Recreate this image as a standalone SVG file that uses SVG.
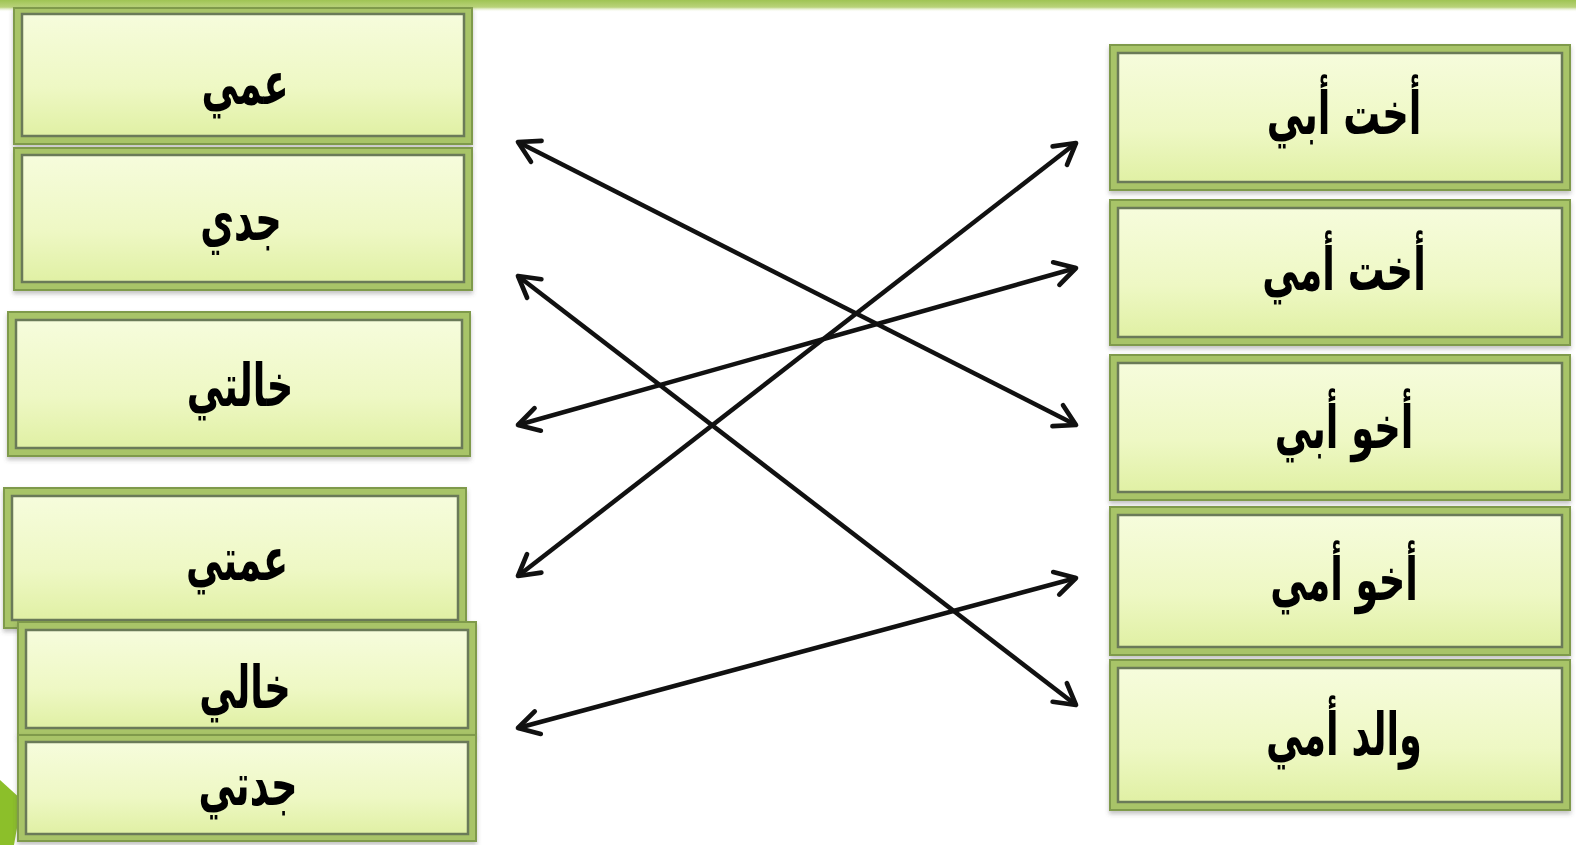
<svg xmlns="http://www.w3.org/2000/svg" width="1576" height="845" viewBox="0 0 1576 845">
<defs>
<linearGradient id="fillG" x1="0" y1="0" x2="0" y2="1">
<stop offset="0" stop-color="#f6fcdc"/>
<stop offset="0.6" stop-color="#eef8c4"/>
<stop offset="1" stop-color="#e0f0a4"/>
</linearGradient>
<linearGradient id="bandG" x1="0" y1="0" x2="0" y2="1">
<stop offset="0" stop-color="#9fc454"/>
<stop offset="0.6" stop-color="#b9d37a"/>
<stop offset="1" stop-color="#ffffff" stop-opacity="0"/>
</linearGradient>
<marker id="ah" viewBox="0 0 20 20" refX="17" refY="10" markerWidth="6.5" markerHeight="6.5" markerUnits="strokeWidth" orient="auto-start-reverse">
<path d="M3,2 L17,10 L3,18" fill="none" stroke="#111" stroke-width="3.2" stroke-linecap="round" stroke-linejoin="round"/>
</marker>
<filter id="sh" x="-5%" y="-5%" width="110%" height="120%">
<feDropShadow dx="0" dy="3" stdDeviation="2" flood-color="#555" flood-opacity="0.35"/>
</filter>
</defs>
<style>
.outer{fill:#a8c468;stroke:#7f9a4c;stroke-width:2}
.inner{fill:url(#fillG);stroke:#6b7a58;stroke-width:2.5}
.lbl{font-family:"DejaVu Sans",sans-serif;font-weight:bold;font-size:46px;fill:#000;text-anchor:middle;dominant-baseline:central}
.conn{stroke:#111;stroke-width:4.5;fill:none;marker-start:url(#ah);marker-end:url(#ah)}
</style>
<rect x="0" y="0" width="1576" height="845" fill="#ffffff"/>
<rect x="0" y="0" width="1576" height="12" fill="url(#bandG)"/>
<path d="M0,780 L22,800 L14,845 L0,845 Z" fill="#8cbf2a"/>

<g id="left-amm" filter="url(#sh)">
<rect class="outer" x="14" y="8" width="458" height="136"/>
<rect class="inner" x="22" y="14" width="442" height="122"/>
<text class="lbl" transform="translate(245,84) scale(0.8,1.3)" direction="rtl">عمي</text>
</g>
<g id="left-jaddi" filter="url(#sh)">
<rect class="outer" x="14" y="148" width="458" height="142"/>
<rect class="inner" x="22" y="155" width="442" height="127"/>
<text class="lbl" transform="translate(241,220) scale(0.8,1.3)" direction="rtl">جدي</text>
</g>
<g id="left-khalati" filter="url(#sh)">
<rect class="outer" x="8" y="312" width="462" height="144"/>
<rect class="inner" x="16" y="320" width="446" height="128"/>
<text class="lbl" transform="translate(240,386) scale(0.8,1.3)" direction="rtl">خالتي</text>
</g>
<g id="left-ammati" filter="url(#sh)">
<rect class="outer" x="4" y="488" width="462" height="140"/>
<rect class="inner" x="12" y="496" width="446" height="124"/>
<text class="lbl" transform="translate(237,560) scale(0.8,1.3)" direction="rtl">عمتي</text>
</g>
<g id="left-khali" filter="url(#sh)">
<rect class="outer" x="18" y="622" width="458" height="113"/>
<rect class="inner" x="26" y="630" width="442" height="98"/>
<text class="lbl" transform="translate(245,688) scale(0.8,1.3)" direction="rtl">خالي</text>
</g>
<g id="left-jaddati" filter="url(#sh)">
<rect class="outer" x="18" y="735" width="458" height="106"/>
<rect class="inner" x="26" y="742" width="442" height="92"/>
<text class="lbl" transform="translate(248,785) scale(0.8,1.3)" direction="rtl">جدتي</text>
</g>

<g id="right-ukhtabi" filter="url(#sh)">
<rect class="outer" x="1110" y="45" width="460" height="145"/>
<rect class="inner" x="1118" y="53" width="444" height="129"/>
<text class="lbl" transform="translate(1344,114) scale(0.8,1.3)" direction="rtl">أخت أبي</text>
</g>
<g id="right-ukhtummi" filter="url(#sh)">
<rect class="outer" x="1110" y="200" width="460" height="145"/>
<rect class="inner" x="1118" y="208" width="444" height="129"/>
<text class="lbl" transform="translate(1344,270) scale(0.8,1.3)" direction="rtl">أخت أمي</text>
</g>
<g id="right-akhuabi" filter="url(#sh)">
<rect class="outer" x="1110" y="355" width="460" height="145"/>
<rect class="inner" x="1118" y="363" width="444" height="129"/>
<text class="lbl" transform="translate(1344,428) scale(0.8,1.3)" direction="rtl">أخو أبي</text>
</g>
<g id="right-akhuummi" filter="url(#sh)">
<rect class="outer" x="1110" y="507" width="460" height="148"/>
<rect class="inner" x="1118" y="515" width="444" height="132"/>
<text class="lbl" transform="translate(1344,580) scale(0.8,1.3)" direction="rtl">أخو أمي</text>
</g>
<g id="right-walidummi" filter="url(#sh)">
<rect class="outer" x="1110" y="660" width="460" height="150"/>
<rect class="inner" x="1118" y="668" width="444" height="134"/>
<text class="lbl" transform="translate(1344,735) scale(0.8,1.3)" direction="rtl">والد أمي</text>
</g>

<g id="connectors">
<line class="conn" x1="518" y1="142" x2="1076" y2="425"/>
<line class="conn" x1="518" y1="276" x2="1076" y2="705"/>
<line class="conn" x1="518" y1="425" x2="1076" y2="268"/>
<line class="conn" x1="518" y1="576" x2="1076" y2="143"/>
<line class="conn" x1="518" y1="728" x2="1076" y2="578"/>
</g>
</svg>
